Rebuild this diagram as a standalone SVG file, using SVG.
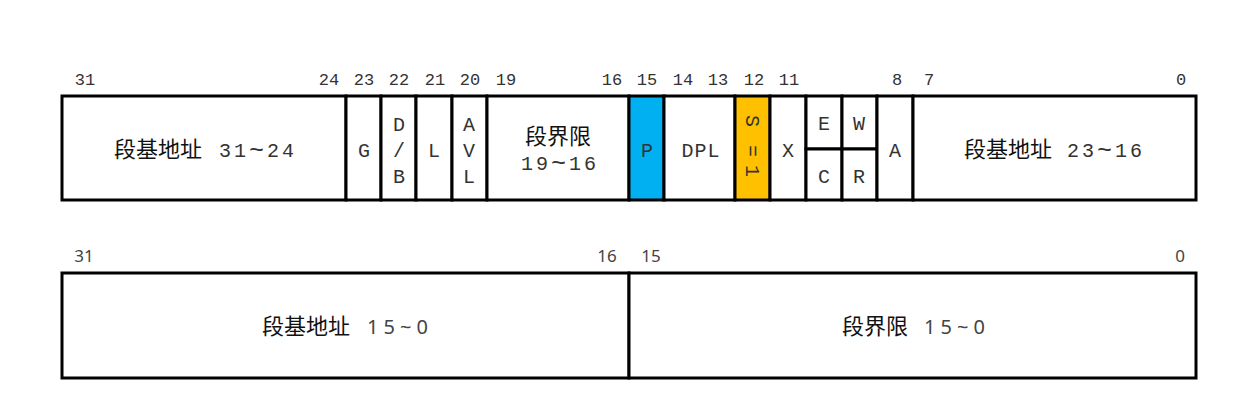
<svg xmlns="http://www.w3.org/2000/svg" width="1257" height="415" viewBox="0 0 1257 415">
<style>
.cell{fill:#fff;stroke:#000;stroke-width:3}
.p{fill:#00B0F0}
.s{fill:#FFC000}
.m{font-family:"Liberation Mono","Noto Sans CJK SC",monospace;font-size:20px;fill:#333;text-anchor:middle}
.ms{font-family:"Liberation Mono","Noto Sans CJK SC",monospace;font-size:20px;fill:#333;letter-spacing:3px}
.t{font-size:25px}
.n{font-family:"Liberation Mono",monospace;font-size:17px;fill:#333;text-anchor:middle}
.bn{font-family:"Noto Sans","Noto Sans CJK SC",sans-serif;font-size:17px;fill:#444;text-anchor:middle}
.cjk{font-family:"Noto Sans CJK SC",sans-serif;font-size:22px;fill:#111}
.cjkm{font-family:"Noto Sans CJK SC",sans-serif;font-size:22px;fill:#111;text-anchor:middle}
.sn{font-family:"Noto Sans","Noto Sans CJK SC",sans-serif;font-size:20px;fill:#444}
</style>
<rect width="1257" height="415" fill="#fff"/>
<g id="bitlabels-top">
<text class="n" x="85" y="85">31</text>
<text class="n" x="329" y="85">24</text>
<text class="n" x="364" y="85">23</text>
<text class="n" x="399" y="85">22</text>
<text class="n" x="435" y="85">21</text>
<text class="n" x="470" y="85">20</text>
<text class="n" x="506" y="85">19</text>
<text class="n" x="612" y="85">16</text>
<text class="n" x="647" y="85">15</text>
<text class="n" x="683" y="85">14</text>
<text class="n" x="718" y="85">13</text>
<text class="n" x="754" y="85">12</text>
<text class="n" x="789" y="85">11</text>
<text class="n" x="897" y="85">8</text>
<text class="n" x="929" y="85">7</text>
<text class="n" x="1181" y="85">0</text>
</g>
<g id="base-31-24">
<rect class="cell" x="62" y="96" width="284" height="104"/>
<text class="cjk" x="114" y="157">段基地址</text>
<text class="ms" x="219" y="157">31<tspan class="t" dy="1">~</tspan><tspan dy="-1">24</tspan></text>
</g>
<g id="G">
<rect class="cell" x="346" y="96" width="35" height="104"/>
<text class="m" x="364" y="157">G</text>
</g>
<g id="DB">
<rect class="cell" x="381" y="96" width="35" height="104"/>
<text class="m" x="399" y="131">D</text>
<text class="m" x="399" y="157">/</text>
<text class="m" x="399" y="183">B</text>
</g>
<g id="L">
<rect class="cell" x="416" y="96" width="36" height="104"/>
<text class="m" x="434" y="157">L</text>
</g>
<g id="AVL">
<rect class="cell" x="452" y="96" width="35" height="104"/>
<text class="m" x="469" y="131">A</text>
<text class="m" x="469" y="157">V</text>
<text class="m" x="469" y="183">L</text>
</g>
<g id="limit-19-16">
<rect class="cell" x="487" y="96" width="142" height="104"/>
<text class="cjkm" x="558" y="144">段界限</text>
<text class="ms" x="521" y="170">19<tspan class="t" dy="1">~</tspan><tspan dy="-1">16</tspan></text>
</g>
<g id="P">
<rect class="cell p" x="629" y="96" width="35" height="104"/>
<text class="m" x="647" y="157">P</text>
</g>
<g id="DPL">
<rect class="cell" x="664" y="96" width="71" height="104"/>
<text class="m" x="701" y="157" style="letter-spacing:1px">DPL</text>
</g>
<g id="S">
<rect class="cell s" x="735" y="96" width="35" height="104"/>
<text class="m" transform="translate(752,147) rotate(90)" dominant-baseline="central"><tspan x="-26" y="0">S</tspan><tspan x="4" y="0">=</tspan><tspan x="24" y="0">1</tspan></text>
</g>
<g id="X">
<rect class="cell" x="770" y="96" width="36" height="104"/>
<text class="m" x="788" y="157">X</text>
</g>
<g id="EC">
<rect class="cell" x="806" y="96" width="36" height="53"/>
<rect class="cell" x="806" y="149" width="36" height="51"/>
<text class="m" x="824" y="130">E</text>
<text class="m" x="824" y="183">C</text>
</g>
<g id="WR">
<rect class="cell" x="842" y="96" width="35" height="53"/>
<rect class="cell" x="842" y="149" width="35" height="51"/>
<text class="m" x="859" y="130">W</text>
<text class="m" x="859" y="183">R</text>
</g>
<g id="A">
<rect class="cell" x="877" y="96" width="36" height="104"/>
<text class="m" x="895" y="157">A</text>
</g>
<g id="base-23-16">
<rect class="cell" x="913" y="96" width="283" height="104"/>
<text class="cjk" x="964" y="157">段基地址</text>
<text class="ms" x="1067" y="157">23<tspan class="t" dy="1">~</tspan><tspan dy="-1">16</tspan></text>
</g>
<g id="bitlabels-bottom">
<text class="bn" x="84" y="262">31</text>
<text class="bn" x="607" y="262">16</text>
<text class="bn" x="651" y="262">15</text>
<text class="bn" x="1180" y="262">0</text>
</g>
<g id="base-15-0">
<rect class="cell" x="62" y="273" width="567" height="105"/>
<text class="cjk" x="262" y="334">段基地址</text>
<text class="sn" x="367" y="334" textLength="61" lengthAdjust="spacing">15~0</text>
</g>
<g id="limit-15-0">
<rect class="cell" x="629" y="273" width="567" height="105"/>
<text class="cjk" x="842" y="334">段界限</text>
<text class="sn" x="924" y="334" textLength="61" lengthAdjust="spacing">15~0</text>
</g>
<g id="connectors"/>
</svg>
